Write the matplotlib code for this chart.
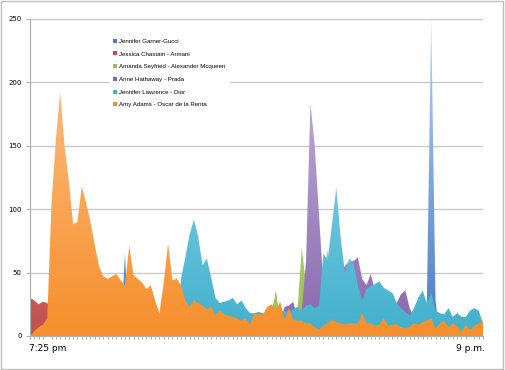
import numpy as np
import matplotlib
matplotlib.use("Agg")
import matplotlib.pyplot as plt
from matplotlib.colors import LinearSegmentedColormap
from matplotlib.patches import PathPatch, Patch, Rectangle

# Series, back to front (legend order)
series_names = [
    "Jennifer Garner-Gucci",
    "Jessica Chastain - Armani",
    "Amanda Seyfried - Alexander Mcqueen",
    "Anne Hathaway - Prada",
    "Jennifer Lawrence - Dior",
    "Amy Adams - Oscar de la Renta",
]

n_points = 106

garner = [0] * n_points
garner[22] = 65
garner[92] = 28
garner[93] = 250
garner[94] = 28

chastain = [0] * n_points
chastain[0:6] = [30, 28, 25, 27, 26, 20]
chastain[57] = 36
chastain[99] = 19

seyfried = [0] * n_points
seyfried[34] = 48
seyfried[56:59] = [20, 34, 15]
seyfried[62:70] = [20, 70, 40, 30, 25, 25, 50, 68]

hathaway = [0] * n_points
hathaway[58:90] = [10, 23, 24, 27, 15, 20, 60, 184, 150, 95, 40, 35,
                   40, 45, 50, 55, 59, 59, 62, 45, 40, 49, 35, 30,
                   30, 28, 28, 26, 33, 36, 22, 15]
hathaway[97:102] = [10, 12, 17, 15, 10]

lawrence = [0] * n_points
lawrence[35:106] = [45, 62, 80, 92, 78, 56, 61, 46, 30, 26,
                    27, 28, 30, 25, 28, 22, 18, 18, 19, 18,
                    17, 17, 18, 19, 20, 19, 21, 23, 20, 24,
                    25, 22, 24, 65, 60, 88, 117, 78, 50, 61,
                    57, 40, 28, 37, 39, 41, 43, 38, 36, 34,
                    26, 22, 19, 16, 22, 30, 36, 26, 34, 20,
                    18, 17, 22, 15, 18, 15, 15, 20, 22, 20, 10]

adams = [0, 4, 7, 9, 14, 105, 155, 192, 150, 122,
         88, 90, 118, 105, 90, 72, 55, 47, 45, 47,
         49, 44, 40, 71, 48, 45, 42, 37, 40, 28,
         18, 42, 73, 44, 45, 40, 28, 23, 28, 26,
         24, 21, 23, 16, 20, 17, 16, 15, 14, 12,
         14, 9, 18, 17, 17, 23, 25, 21, 27, 13,
         22, 13, 12, 12, 10, 10, 7, 5, 8, 10,
         13, 11, 10, 9, 10, 10, 10, 18, 10, 10,
         8, 9, 14, 8, 9, 9, 7, 6, 7, 10,
         9, 11, 12, 14, 6, 10, 12, 7, 10, 8,
         3, 9, 5, 8, 10, 11]

series_values = [garner, chastain, seyfried, hathaway, lawrence, adams]

# color de abajo, color de arriba (degradado estilo Excel)
series_colors = [
    ("#4a7cc4", "#b8d3f7"),
    ("#c24f4c", "#eaa3a2"),
    ("#98bf55", "#d3e8ae"),
    ("#8868ad", "#cdbde4"),
    ("#43b0cc", "#a3e1f5"),
    ("#f68f2c", "#fdc58f"),
]

x_labels = {4: "7:25 pm", 102: "9 p.m."}
y_ticks = [0, 50, 100, 150, 200, 250]

fig = plt.figure(figsize=(5.05, 3.70), dpi=100)
ax = fig.add_axes([0.0594, 0.0919, 0.897, 0.8568])

x = np.arange(n_points)
y_top = 250


def area_degradada(ax, x, y, color_abajo, color_arriba, z):
    poly = ax.fill_between(x, 0, y, facecolor="none", edgecolor="none", zorder=z)
    path = poly.get_paths()[0]
    clip = PathPatch(path, transform=ax.transData, facecolor="none", edgecolor="none")
    ax.add_patch(clip)
    cmap = LinearSegmentedColormap.from_list("g", [color_abajo, color_arriba])
    grad = np.linspace(0, 1, 256).reshape(-1, 1)
    im = ax.imshow(grad, extent=[x[0], x[-1], 0, y_top], origin="lower",
                   aspect="auto", cmap=cmap, zorder=z, interpolation="bilinear")
    im.set_clip_path(clip)


for i, (vals, (c0, c1)) in enumerate(zip(series_values, series_colors)):
    area_degradada(ax, x, np.array(vals, dtype=float), c0, c1, 2 + i)

ax.set_xlim(0, n_points - 1)
ax.set_ylim(0, y_top)

# grilla y ejes
ax.set_axisbelow(True)
ax.set_yticks(y_ticks)
ax.yaxis.grid(True, color="#c9c9c9", lw=1)
ax.tick_params(axis="y", labelsize=5, length=3, color="#b0b0b0", pad=3)
for s in ["top", "right"]:
    ax.spines[s].set_visible(False)
ax.spines["left"].set_color("#b0b0b0")
ax.spines["bottom"].set_color("#b0b0b0")
ax.spines["left"].set_zorder(10)
ax.spines["bottom"].set_zorder(10)

ax.set_xticks(list(x_labels.keys()))
ax.set_xticklabels(list(x_labels.values()))
ax.set_xticks(x, minor=True)
ax.tick_params(axis="x", which="major", length=0, labelsize=6.5, pad=6)
ax.tick_params(axis="x", which="minor", length=2, color="#a0a0a0", width=0.6)

handles = [Patch(facecolor=c0, edgecolor="none") for c0, _ in series_colors]
leg = ax.legend(handles, series_names, loc="upper left", bbox_to_anchor=(0.17, 0.957),
                prop={"family": "Liberation Sans", "size": 4.4},
                frameon=True, framealpha=1, facecolor="white",
                edgecolor="white", handlelength=0.6, handleheight=0.6,
                handletextpad=0.4, labelspacing=1.25, borderpad=0.5)
leg.set_zorder(20)

# borde exterior
fig.patches.append(Rectangle((0.002, 0.003), 0.995, 0.993, transform=fig.transFigure,
                             fill=False, edgecolor="#bdbdbd", lw=1))

fig.savefig("out.png", dpi=100)
